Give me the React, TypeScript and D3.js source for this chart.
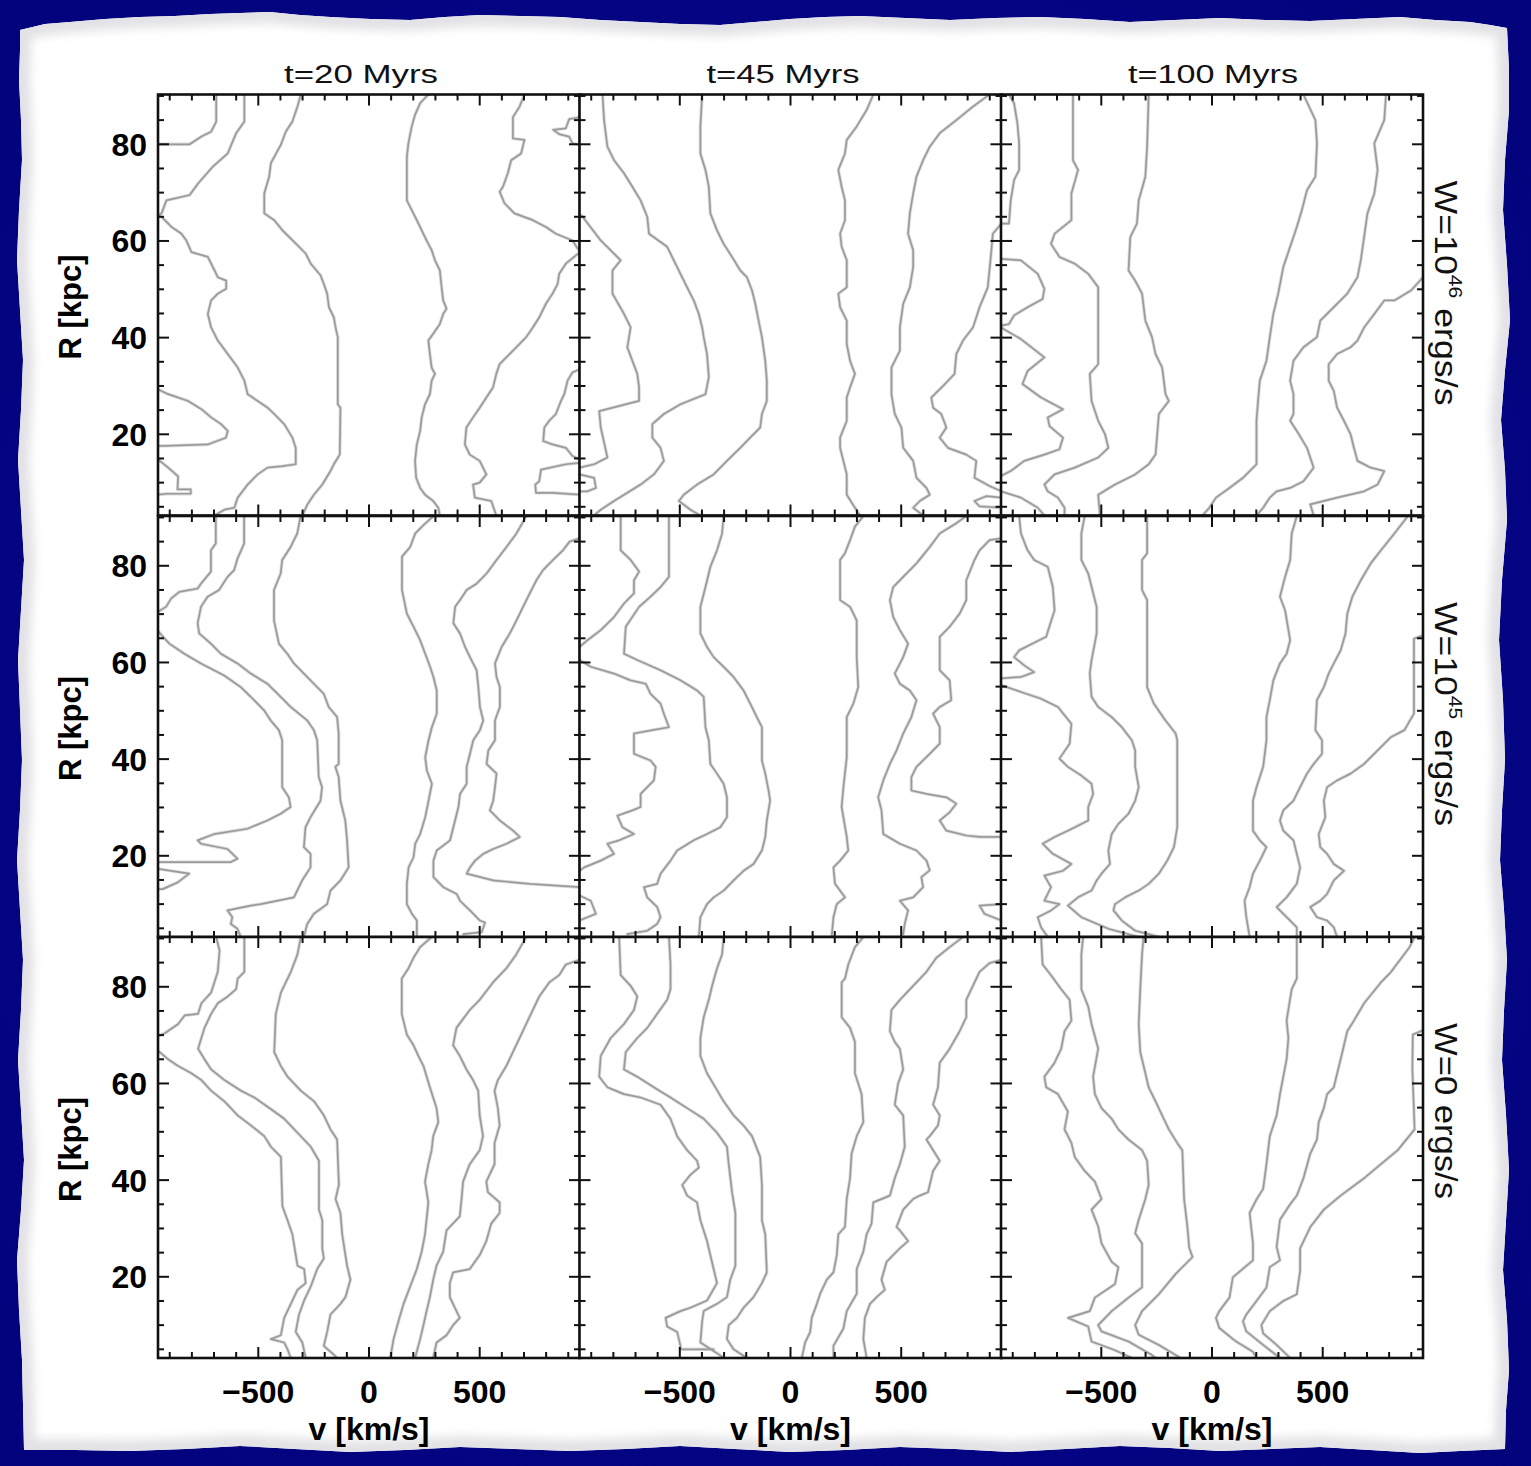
import React from 'react';
import * as d3 from 'd3';

type Pt = [number, number];

// ---------- labels & ticks ----------
const columnTitles = ['t=20 Myrs', 't=45 Myrs', 't=100 Myrs'];
const rowLabelBase = ['W=10', 'W=10', 'W=0'];
const rowLabelSup = ['46', '45', ''];
const rowLabelRest = [' ergs/s', ' ergs/s', ' ergs/s'];
const xMajorTicks = [-500, 0, 500];
const xMinorTicks = d3.range(-900, 901, 100);
const yMajorTicks = [20, 40, 60, 80];
const yMinorTicks = d3.range(5, 91, 5);
const vDomain: [number, number] = [-953, 953];
const rDomain: [number, number] = [3.2, 90.3];

// ---------- contour lines (v [km/s], R [kpc]) ----------
// Row 1 : W=10^46
const panel_r1c1: Pt[][] = [
  [[-690,90.3],[-690,84.7],[-713,82.6],[-757,81.6],[-810,80],[-953,80]],
  [[-563,90.3],[-563,84.7],[-600,82.3],[-638,78.1],[-705,75.4],[-772,71.9],[-810,69.5],[-915,68.4],[-937,65.7],[-953,65.2],[-937,65],[-892,62.9],[-847,61.5],[-825,60.1],[-802,57.7],[-728,56.7],[-705,54.6],[-683,52.5],[-645,51.8],[-645,50.1],[-683,49.1],[-713,47.7],[-728,44.9],[-713,42.1],[-683,39.4],[-638,36.6],[-593,33.8],[-563,31.1],[-548,28.3],[-503,26.9],[-458,25.5],[-428,24.2],[-383,22.1],[-346,19.3],[-331,17.2],[-331,13.8],[-391,13.4],[-458,13.1],[-503,11.7],[-548,9.6],[-593,6.9],[-608,4.8],[-653,4.4],[-698,3.2]],
  [[-308,90.3],[-323,87.8],[-346,84.7],[-376,82.6],[-398,79.9],[-428,77.4],[-443,76.1],[-451,73.3],[-473,69.8],[-473,65.7],[-428,64.3],[-391,62.2],[-338,59.8],[-286,57.4],[-263,55.3],[-219,52.9],[-204,51.1],[-189,49.1],[-181,46.3],[-159,44.2],[-151,42.1],[-141,40.1],[-141,26.2],[-129,25.5],[-132,15.8],[-159,13.8],[-174,12.4],[-211,9.6],[-249,7.5],[-278,5.5],[-301,3.2]],
  [[268,90.3],[231,88.5],[208,86.1],[193,83.7],[178,80.2],[171,77.4],[171,68.4],[193,66.4],[216,64.3],[238,62.2],[260,60.1],[283,58.1],[298,56],[320,53.9],[328,50.4],[335,47.7],[350,46],[335,44.9],[320,42.8],[290,40.8],[268,39.4],[275,36.6],[283,33.8],[298,32.5],[283,31.1],[275,28.3],[253,26.2],[238,23.5],[231,20.7],[216,17.9],[208,14.5],[213,11],[231,8.9],[253,7.5],[290,6.2],[313,4.8],[320,3.2]],
  [[702,90.3],[680,87.8],[650,85.6],[650,81.2],[702,80.9],[687,78.1],[642,76.7],[627,74],[605,71.2],[590,70.2],[612,67.8],[657,65.7],[740,64.3],[799,62.9],[844,61.5],[919,60.1],[953,57.7],[889,55.3],[859,53.2],[852,51.1],[829,49.1],[799,47],[769,44.2],[740,42.1],[710,40.1],[665,38],[620,35.9],[590,34.5],[575,32.5],[560,29.7],[530,27.6],[500,25.5],[470,23.5],[440,21.4],[433,17.9],[455,15.8],[500,14.5],[530,11.7],[500,10],[470,9.6],[478,6.9],[552,6.2],[575,3.2]],
  [[953,85.6],[904,85.2],[889,83.3],[832,83],[859,82.1],[904,81.6],[919,80.2],[953,79.9]],
  [[953,33.5],[919,32.8],[897,31.1],[882,28.3],[867,26.9],[844,24.2],[814,22.8],[792,21.4],[787,18.6],[829,17.9],[889,17.2],[919,15.5],[953,14.8]],
  [[953,14.1],[889,13.8],[777,12.7],[769,10.3],[751,9.6],[754,7.9],[829,7.9],[953,7.5]],
  [[-953,29.3],[-907,28.3],[-817,26.9],[-757,25.2],[-713,23.5],[-668,22.1],[-638,20.7],[-646,19.3],[-728,17.9],[-922,17.6],[-953,17.6]],
  [[-953,14.8],[-907,13.1],[-862,11.3],[-865,8.6],[-805,8.6],[-805,7.7],[-915,7.7],[-953,7.5]],
];

const panel_r1c2: Pt[][] = [
  [[-953,65.5],[-939,65],[-857,60.1],[-767,56],[-804,53.9],[-804,49.1],[-752,44.9],[-722,42.1],[-737,38],[-692,32.5],[-684,29.7],[-684,26.9],[-864,24.8],[-857,21.4],[-827,15.2],[-887,13.8],[-953,13.1]],
  [[-953,11.7],[-887,11],[-879,8.9],[-917,8.2],[-953,8.2]],
  [[-849,90.3],[-842,85],[-827,79.5],[-797,76.7],[-752,74],[-714,71.2],[-677,68.4],[-647,65],[-639,61.5],[-557,58.8],[-527,56],[-497,53.2],[-467,50.4],[-437,47.7],[-414,44.9],[-399,42.1],[-392,40.1],[-377,36.6],[-369,31.8],[-384,28.3],[-497,26.2],[-572,24.2],[-624,22.1],[-624,19.3],[-587,17.2],[-572,14.5],[-617,11.7],[-677,9.6],[-737,7.9],[-797,6.2],[-857,4.4],[-887,3.2]],
  [[-399,90.3],[-407,83.7],[-407,78.1],[-384,74.7],[-369,71.2],[-362,65.7],[-332,62.2],[-302,59.4],[-264,56.7],[-227,53.9],[-197,52.5],[-174,49.8],[-159,47],[-144,43.5],[-129,40.1],[-114,35.2],[-107,31.1],[-107,26.9],[-129,24.2],[-137,21.4],[-182,19.3],[-227,17.2],[-287,14.5],[-347,11.7],[-422,9.6],[-482,7.5],[-504,6.2],[-452,4.4],[-407,3.2]],
  [[374,90.3],[344,87.1],[299,83.7],[254,80.9],[246,78.1],[216,74.7],[231,71.2],[246,68.4],[246,64.3],[224,61.5],[231,58.8],[254,56],[254,50.4],[216,49.1],[224,46.3],[254,43.5],[254,38.7],[269,35.2],[291,32.5],[269,29.7],[254,27.6],[254,22.8],[224,19.3],[224,17.2],[254,11.7],[254,7.5],[291,4.8],[314,3.2]],
  [[899,90.3],[824,87.8],[749,85],[674,82.3],[629,79.5],[599,76.7],[569,73.3],[554,69.8],[539,65.7],[531,61.5],[554,58.1],[554,54.6],[539,50.4],[509,47],[494,42.1],[494,37.3],[456,33.8],[456,28.3],[471,24.2],[501,21.4],[509,17.2],[554,14.5],[569,11],[614,8.9],[629,7.5],[584,6.2],[554,4.8],[599,3.2]],
  [[953,63.6],[914,61.5],[906,57.4],[891,50.4],[854,46.3],[824,42.1],[779,39.4],[749,36.6],[741,32.5],[689,30],[636,27.6],[644,25.5],[681,24.2],[704,21.4],[674,19.3],[711,17.2],[794,15.8],[839,14.5],[831,11],[899,9.3],[953,8.2]],
  [[953,6.9],[884,7.2],[831,6.2],[854,5.1],[953,4.8]],
];

const panel_r1c3: Pt[][] = [
  [[-917,90.3],[-894,88.5],[-879,84.4],[-871,80.2],[-871,74.7],[-894,72.6],[-909,68.4],[-917,63.6],[-953,63.6]],
  [[-953,56.3],[-863,56],[-787,53.2],[-757,50.1],[-765,48],[-833,46.3],[-894,44.6],[-917,42.8],[-953,42.5]],
  [[-953,42.1],[-863,39.7],[-757,35.9],[-833,33.1],[-856,30.4],[-772,27.6],[-673,25.2],[-742,23.5],[-734,21.7],[-673,19.3],[-689,16.9],[-757,15.8],[-848,14.5],[-909,12.4],[-953,11.4]],
  [[-953,8.2],[-863,6.9],[-787,4.8],[-757,3.2]],
  [[-628,90.3],[-628,76.7],[-605,74.7],[-635,69.8],[-635,64.3],[-711,61.5],[-727,59.4],[-689,56.7],[-620,55.3],[-559,53.2],[-514,50.4],[-514,34.5],[-552,32.5],[-544,26.9],[-514,22.8],[-483,20],[-468,17.2],[-514,15.2],[-620,13.1],[-711,11.7],[-757,9.6],[-742,8.2],[-696,6.9],[-666,4.8],[-666,3.2]],
  [[-286,90.3],[-293,79.5],[-301,73.3],[-331,68.4],[-339,63.6],[-369,60.8],[-377,53.9],[-347,51.8],[-316,49.1],[-301,43.5],[-271,40.1],[-255,36.6],[-225,33.8],[-210,28.3],[-195,26.9],[-240,24.2],[-255,15.8],[-286,13.8],[-347,11.7],[-438,9.6],[-514,7.5],[-506,3.2]],
  [[413,90.3],[467,85],[474,80.2],[467,73.3],[429,70.5],[406,66.4],[383,62.9],[353,58.8],[322,54.6],[299,49.1],[277,44.9],[261,40.1],[246,35.2],[216,31.1],[208,26.9],[201,22.8],[201,15.8],[201,13.8],[140,11],[79,8.9],[18,6.9],[-12,4.8],[-43,3.2]],
  [[786,90.3],[778,85],[733,80.2],[748,74.7],[733,69.8],[702,65.7],[687,60.8],[672,56],[657,52.5],[611,49.1],[550,46.3],[489,43.5],[474,40.1],[413,38],[368,35.2],[353,31.1],[368,28.3],[368,24.2],[353,22.8],[383,20.7],[429,17.2],[459,13.1],[413,10.3],[353,8.9],[292,8.2],[261,6.9],[231,4.8],[201,3.2]],
  [[953,52.5],[900,49.8],[824,47.7],[778,47.7],[733,44.9],[687,42.1],[657,39.4],[626,38],[565,36.6],[527,34.5],[527,31.1],[550,29],[565,25.5],[596,22.8],[626,20],[641,17.2],[657,14.5],[717,13.1],[778,12.4],[748,9.6],[687,8.2],[565,6.9],[444,5.5],[459,3.2]],
];

// Row 2 : W=10^45
const panel_r2c1: Pt[][] = [
  [[-692,90.3],[-692,84.6],[-714,83.2],[-714,78.8],[-759,76.3],[-774,75.3],[-857,74.6],[-894,73.2],[-917,71.5],[-953,70.5]],
  [[-953,66.5],[-902,63.9],[-834,61.8],[-759,59.8],[-654,57.3],[-579,54.9],[-534,52.9],[-474,50.1],[-444,48],[-407,46],[-392,43.9],[-392,34.2],[-362,32.1],[-354,30.1],[-399,28.7],[-459,27.3],[-549,25.6],[-699,24.5],[-774,23.2],[-759,22.5],[-639,21.4],[-594,19.4],[-624,18.7],[-953,18.7]],
  [[-953,17.3],[-812,16.3],[-864,14.5],[-932,13.1],[-953,13.1]],
  [[-564,90.3],[-564,84.6],[-594,81.5],[-609,79.1],[-639,77.7],[-677,75],[-729,73.6],[-759,71.5],[-774,68.1],[-767,66],[-714,63.9],[-669,61.8],[-594,59.8],[-534,57.7],[-459,55.6],[-399,52.9],[-354,50.8],[-279,48],[-249,46],[-234,43.9],[-227,36.3],[-212,34.2],[-219,31.4],[-264,28],[-287,25.9],[-294,21.8],[-264,20.4],[-264,17.6],[-302,14.9],[-339,11.4],[-489,10],[-534,9.7],[-639,8.7],[-617,7.3],[-624,5.9],[-594,4.9],[-579,3.2]],
  [[-309,90.3],[-324,86.7],[-354,83.9],[-392,81.2],[-399,78.4],[-429,75],[-429,68.7],[-407,63.9],[-369,61.8],[-339,59.8],[-294,57.7],[-249,55.6],[-204,53.5],[-182,50.8],[-144,48.7],[-137,45.3],[-137,39],[-152,38.4],[-137,36.3],[-129,31.4],[-107,27.3],[-99,23.2],[-92,17.6],[-129,14.9],[-174,12.8],[-189,10],[-249,8],[-279,5.9],[-294,3.2]],
  [[291,90.3],[246,88.4],[209,86.7],[186,83.9],[149,81.9],[149,75],[171,70.1],[201,67.4],[231,64.6],[254,61.8],[276,59.1],[291,57],[306,54.2],[306,49.4],[284,46.6],[269,43.9],[254,40.4],[261,37.7],[284,34.9],[269,31.4],[254,28],[231,24.5],[209,22.5],[201,19.7],[179,17.6],[171,14.2],[171,10],[194,8],[216,6.6],[216,3.2]],
  [[711,90.3],[666,86.7],[621,83.9],[576,81.2],[531,78.4],[486,76.3],[441,75],[411,72.9],[389,71.5],[381,68.1],[411,66],[434,63.2],[456,61.1],[486,58.4],[494,54.9],[501,50.8],[516,48],[501,46],[471,43.9],[456,41.1],[441,38.4],[441,34.9],[411,32.8],[404,30.1],[381,25.9],[366,23.2],[306,21.1],[291,19],[291,15.6],[336,13.5],[396,12.1],[411,10.7],[456,8.7],[501,6.6],[524,6.2],[509,4.2],[426,3.8]],
  [[953,85.7],[906,85],[876,83.2],[831,81.2],[786,79.1],[756,77],[726,74.3],[696,71.5],[666,68.7],[636,66],[599,63.2],[569,59.8],[576,57],[591,54.9],[591,50.8],[569,48],[569,43.9],[539,41.8],[531,39],[576,37],[569,34.2],[561,31.4],[546,29.4],[591,27.3],[651,25.2],[681,23.9],[621,22.5],[561,21.4],[516,20.4],[479,19],[456,17.6],[441,16.3],[561,14.9],[726,14.2],[953,13.5]],
];

const panel_r2c2: Pt[][] = [
  [[-767,90.3],[-767,83.2],[-722,81.2],[-684,78.8],[-707,77],[-707,74.3],[-752,72.2],[-797,69.4],[-857,66.7],[-917,64.6],[-953,63.2]],
  [[-953,60.5],[-902,59.1],[-797,57.7],[-722,56.3],[-654,55.6],[-632,53.5],[-587,51.5],[-572,49.4],[-549,46.6],[-624,46],[-707,45.3],[-707,41.1],[-632,39.7],[-609,38.4],[-617,35.6],[-647,34.2],[-677,32.8],[-677,30.1],[-714,29.4],[-782,28.3],[-759,25.9],[-707,24.5],[-774,23.2],[-827,22.5],[-797,20.4],[-857,19],[-932,17.6],[-953,16.9]],
  [[-953,11.8],[-902,10.7],[-879,8],[-917,7.3],[-953,6.6]],
  [[-549,90.3],[-549,77.7],[-587,75.6],[-632,73.6],[-684,71.5],[-744,67.4],[-752,61.8],[-692,60.5],[-587,58.4],[-497,56.3],[-422,54.2],[-392,52.9],[-384,46.6],[-369,43.9],[-362,39],[-332,37],[-302,34.9],[-287,32.1],[-287,28],[-317,25.9],[-377,24.5],[-437,23.2],[-512,21.1],[-542,19],[-587,16.3],[-602,14.2],[-662,13.5],[-647,11.4],[-602,9.4],[-587,7.3],[-602,5.9],[-647,4.5],[-737,3.8]],
  [[-302,90.3],[-309,86.7],[-332,83.2],[-362,79.8],[-384,75.6],[-407,71.5],[-407,66],[-377,63.2],[-347,61.1],[-302,59.1],[-257,57],[-212,54.2],[-182,51.5],[-152,48.7],[-129,46.6],[-129,39.7],[-114,37],[-99,33.5],[-92,31.4],[-107,27.3],[-114,23.9],[-129,21.1],[-167,18.3],[-212,16.9],[-257,14.9],[-302,12.8],[-347,11.4],[-377,10],[-407,7.3],[-414,3.2]],
  [[329,90.3],[291,88.1],[269,85.3],[246,82.6],[224,81.2],[224,72.9],[269,71.5],[299,68.7],[299,61.1],[306,54.9],[284,51.5],[254,48.7],[254,40.4],[239,34.2],[231,30.1],[254,23.9],[261,21.1],[224,19],[194,17.6],[201,14.2],[246,11.4],[209,10],[194,7.3],[186,3.2]],
  [[794,90.3],[749,88.8],[674,86.7],[629,83.9],[569,80.5],[509,77.7],[464,75.6],[449,72.9],[464,69.4],[494,66.7],[531,63.9],[509,61.1],[471,57.7],[494,55.6],[539,54.2],[569,52.2],[546,48.7],[509,45.3],[479,41.8],[449,39],[419,35.6],[396,32.1],[411,29.4],[419,24.5],[494,22.5],[569,21.1],[614,19],[629,17],[591,15.6],[599,13.5],[554,11.4],[494,10.7],[531,8.7],[516,5.9],[509,3.8]],
  [[953,85.7],[899,85.3],[854,83.2],[831,81.2],[794,77],[794,72.9],[764,70.1],[719,67.4],[674,65.3],[674,58.4],[719,56.3],[726,52.2],[674,50.8],[644,49.4],[674,46.6],[674,43.2],[629,41.1],[569,38.4],[546,36.3],[546,33.5],[614,32.8],[704,32.1],[749,30.8],[719,29],[674,27.3],[704,25.2],[794,24.2],[854,23.9],[953,23.9]],
  [[953,10],[854,9.7],[876,8],[953,6.6]],
];

const panel_r2c3: Pt[][] = [
  [[-871,90.3],[-863,86.7],[-833,83.2],[-803,81.2],[-742,79.8],[-719,75.6],[-711,70.8],[-749,65.3],[-810,63.9],[-871,62.5],[-894,61.1],[-848,59.4],[-803,58],[-863,57],[-953,56.7]],
  [[-953,55.3],[-863,53.9],[-772,52.5],[-696,50.8],[-635,47.3],[-643,43.2],[-689,40.1],[-651,38.4],[-590,36.6],[-544,34.9],[-537,32.8],[-559,30.1],[-559,27.3],[-590,26.6],[-651,25.2],[-711,23.9],[-765,22.5],[-719,20.4],[-635,18.3],[-673,16.9],[-757,15.9],[-727,13.5],[-757,10.7],[-689,10],[-727,8.7],[-787,7.3],[-772,5.2],[-742,3.2]],
  [[-575,90.3],[-590,86.7],[-590,81.2],[-559,78.4],[-521,71.5],[-521,66],[-544,60.5],[-552,57.7],[-544,52.9],[-514,50.8],[-453,48.7],[-407,46.6],[-362,43.9],[-347,41.8],[-347,38.4],[-331,34.2],[-347,31.4],[-377,28.7],[-423,26.6],[-453,24.5],[-468,21.1],[-461,18.3],[-499,16.3],[-521,14.9],[-544,12.8],[-605,11.4],[-651,9.7],[-590,7.3],[-468,4.9],[-331,3.2]],
  [[-293,90.3],[-293,82.6],[-316,81.2],[-316,75],[-293,72.9],[-293,54.9],[-263,51.5],[-210,48],[-164,45.3],[-157,43.9],[-157,25.9],[-172,21.8],[-202,19],[-240,16.3],[-286,14.2],[-331,12.8],[-392,11.4],[-438,10],[-445,8.7],[-407,6.6],[-347,4.5],[-286,3.8],[-240,3.2]],
  [[383,90.3],[360,86.7],[353,81.2],[330,77.7],[307,73.6],[330,70.8],[353,64.6],[337,61.8],[307,59.8],[277,56.3],[261,52.2],[246,48.7],[246,43.9],[231,38.4],[201,34.2],[185,31.4],[185,25.2],[216,23.2],[246,21.8],[216,19],[185,16.3],[170,13.5],[147,10.7],[155,7.3],[170,3.2]],
  [[885,90.3],[824,86.7],[763,83.2],[717,80.5],[672,77],[634,73.6],[611,70.1],[603,66],[581,62.5],[550,59.8],[527,57.7],[505,54.9],[474,52.2],[467,46],[497,43.9],[497,41.1],[459,39],[429,37],[398,34.2],[368,31.4],[322,29.4],[307,27.3],[322,25.2],[368,23.2],[383,20.4],[398,17.6],[383,14.2],[337,11.4],[292,9.4],[322,8],[353,6.6],[383,5.2],[383,3.2]],
  [[953,65.6],[912,64.9],[912,49.4],[869,46],[809,44.6],[748,41.8],[687,39],[626,37],[565,35.6],[520,34.2],[505,31.4],[512,28],[482,24.5],[489,21.8],[520,20.4],[550,18.3],[596,16.9],[550,14.9],[520,12.1],[489,10.7],[444,9.4],[474,7.3],[520,6.6],[550,5.2],[565,3.2]],
];

// Row 3 : W=0
const panel_r3c1: Pt[][] = [
  [[-690,90.3],[-675,87.5],[-683,83.1],[-713,78.8],[-757,76.6],[-772,74.4],[-832,74.1],[-862,72.3],[-922,70.4],[-953,69.8]],
  [[-953,66.8],[-907,65],[-862,63.6],[-802,62.1],[-757,60.7],[-713,58.5],[-653,56.3],[-593,53.4],[-533,51.3],[-473,49.1],[-443,46.9],[-398,44.8],[-391,34.6],[-368,31.7],[-346,28.8],[-323,22.3],[-293,21.6],[-286,18.7],[-323,17.3],[-353,14.4],[-383,11.5],[-398,7.9],[-443,7.1],[-383,6.4],[-368,5],[-353,3.2]],
  [[-563,90.3],[-563,83.1],[-593,81.7],[-600,79.5],[-638,78],[-683,76.6],[-713,74.4],[-743,71.5],[-757,69.4],[-772,67.2],[-743,65],[-713,62.9],[-653,60.7],[-578,58.5],[-518,57.1],[-428,54.2],[-383,52.7],[-323,49.8],[-263,46.9],[-226,44],[-226,33.9],[-211,31.7],[-211,25.9],[-204,23.8],[-234,21.6],[-263,18],[-293,15.1],[-316,12.2],[-331,8.6],[-301,6.4],[-286,3.2]],
  [[-308,90.3],[-323,86.7],[-353,83.1],[-398,78.8],[-421,74.4],[-428,66.5],[-398,63.6],[-368,61.4],[-308,58.5],[-248,56.3],[-204,53.4],[-174,50.5],[-144,48.4],[-136,39],[-151,36.1],[-129,33.2],[-121,28.8],[-99,22.3],[-84,19.4],[-106,15.8],[-129,14.4],[-174,12.2],[-189,8.6],[-204,5.7],[-159,3.9],[-144,3.2]],
  [[283,90.3],[231,88.2],[201,86],[178,83.8],[148,81.7],[148,74.4],[171,70.1],[201,67.9],[223,65.7],[246,63.6],[275,59.2],[305,54.9],[313,52],[290,49.1],[283,46.2],[268,43.3],[253,39.7],[268,35.4],[253,28.8],[238,25.2],[216,21.6],[186,18],[156,14.4],[133,10.8],[111,7.1],[96,3.2]],
  [[710,90.3],[665,86.7],[620,83.8],[560,80.9],[500,77.3],[455,75.2],[395,71.5],[380,67.9],[410,65.7],[440,62.9],[470,60.7],[493,58.5],[500,53.4],[515,49.1],[500,46.2],[455,43.3],[425,39.7],[418,36.1],[410,32.5],[350,29.6],[335,25.2],[305,22.3],[290,19.4],[275,15.8],[260,12.9],[246,10],[231,7.1],[208,3.2]],
  [[953,85.6],[889,84.6],[859,82.4],[814,80.9],[769,78],[740,75.2],[710,72.3],[680,69.4],[650,66.5],[620,63.6],[582,60.7],[567,58.5],[582,54.9],[590,51.3],[567,47.7],[567,43.3],[530,39.7],[537,37.5],[590,35.4],[590,33.2],[552,31],[530,27.4],[500,24.5],[455,21.6],[380,20.9],[365,18.7],[365,15.8],[395,12.9],[410,11.5],[380,10],[350,7.9],[305,6.4],[290,3.2]],
];

const panel_r3c2: Pt[][] = [
  [[-774,90.3],[-767,82.4],[-722,80.2],[-692,78],[-707,75.2],[-752,72.3],[-812,69.4],[-857,65.7],[-864,61.4],[-827,59.2],[-752,57.8],[-677,57.1],[-587,55.6],[-542,52.7],[-512,49.1],[-467,46.2],[-422,44],[-414,42.6],[-452,41.1],[-489,39],[-467,36.8],[-422,35.4],[-407,31.7],[-377,27.4],[-362,24.5],[-347,21.6],[-332,18.7],[-377,15.1],[-452,13.6],[-497,12.9],[-564,11.5],[-557,9.7],[-512,8.6],[-497,5.7],[-497,5],[-347,5]],
  [[-549,90.3],[-542,84.6],[-542,79.5],[-557,77.3],[-602,74.4],[-647,71.5],[-692,69.4],[-744,66.5],[-752,62.9],[-692,61.4],[-617,59.2],[-542,57.1],[-467,54.9],[-392,52.7],[-332,49.8],[-287,46.9],[-279,43.3],[-264,37.5],[-249,33.2],[-249,22.3],[-272,19.4],[-287,15.8],[-332,14.4],[-392,12.9],[-399,10.8],[-407,6.4],[-332,4.2],[-302,3.2]],
  [[-302,90.3],[-309,86.7],[-332,83.8],[-354,80.2],[-369,77.3],[-392,73.7],[-407,69.4],[-407,65.7],[-377,62.1],[-339,59.2],[-302,56.3],[-257,53.4],[-212,51.3],[-174,49.1],[-137,44.8],[-129,39],[-129,31.7],[-114,28.8],[-107,20.9],[-129,18.7],[-167,15.8],[-212,13.6],[-242,11.5],[-279,10],[-287,7.1],[-257,5],[-197,3.2]],
  [[329,90.3],[291,88.2],[261,84.6],[246,81.7],[231,80.9],[231,73.7],[269,71.5],[291,68.6],[291,62.1],[321,57.8],[329,52],[299,49.1],[276,45.5],[269,40.4],[254,36.1],[246,30.3],[216,28.8],[209,24.5],[194,20.9],[164,19.4],[134,16.5],[119,14.4],[96,11.5],[89,8.6],[66,6.4],[51,3.2]],
  [[779,90.3],[719,88.2],[659,86],[614,83.1],[554,80.2],[494,77.3],[456,75.2],[449,70.8],[471,68.6],[494,67.2],[509,62.9],[486,60],[471,55.6],[509,53.4],[516,46.9],[494,43.3],[471,40.4],[449,36.8],[374,35.4],[366,31],[344,28.8],[329,25.2],[299,21.6],[299,16.5],[254,12.9],[239,9.3],[194,5.7],[194,3.2]],
  [[953,85.6],[899,84.9],[854,83.1],[831,80.9],[794,77.3],[794,73.7],[764,70.8],[719,67.2],[674,64.3],[666,59.2],[644,55.6],[674,53.4],[666,51.3],[629,49.1],[614,48.4],[674,44],[644,41.9],[621,37.5],[584,36.8],[554,36.1],[509,33.9],[479,30.3],[494,29.6],[531,27.4],[494,25.9],[434,23.1],[411,19.4],[426,17.3],[389,15.8],[359,14.4],[336,11.5],[329,7.1],[344,3.2]],
];

const panel_r3c3: Pt[][] = [
  [[-772,90.3],[-765,84.6],[-727,82.4],[-681,79.5],[-643,77.3],[-635,73],[-666,70.8],[-681,67.2],[-711,64.3],[-757,61.4],[-749,59.2],[-696,57.8],[-651,54.2],[-666,50.5],[-635,47.7],[-620,44.8],[-575,41.9],[-529,39.7],[-499,36.1],[-544,33.9],[-514,30.4],[-499,26.9],[-453,23.1],[-423,22],[-438,18.5],[-529,15.7],[-552,12.9],[-650,11.5],[-559,9.7],[-544,6.6],[-438,4.8],[-362,3.2]],
  [[-582,90.3],[-590,86.7],[-590,79.5],[-559,75.9],[-544,72.3],[-514,67.2],[-537,61.4],[-529,57.8],[-499,54.9],[-453,52.7],[-423,50.5],[-377,48.4],[-316,46.2],[-293,44],[-286,39],[-301,36.1],[-331,31.8],[-347,29],[-316,26.9],[-316,17.8],[-377,15.7],[-453,12.9],[-514,10],[-499,8.7],[-377,6.6],[-271,3.8],[-255,3.2]],
  [[-309,90.3],[-316,86.7],[-324,79.5],[-331,72.3],[-324,66.5],[-301,62.1],[-286,59.2],[-255,56.3],[-225,53.4],[-195,50.5],[-157,47.7],[-134,46.2],[-126,36.1],[-111,30.3],[-103,26],[-88,24.1],[-164,20.6],[-240,16.4],[-316,12.9],[-347,10],[-331,8],[-240,5.9],[-149,3.4]],
  [[383,90.3],[383,81.7],[360,79.5],[337,73],[345,69.4],[337,65],[322,61.4],[307,57.8],[292,53.4],[261,49.1],[246,43.3],[231,38.2],[201,36],[170,33.2],[185,26.9],[185,23.4],[94,19.9],[79,15.7],[33,12.9],[18,11.5],[33,9.4],[109,6.6],[185,4.5],[201,3.2]],
  [[915,90.3],[892,88.2],[809,83.1],[763,80.9],[687,76.6],[641,73],[611,70.8],[581,65],[550,59.2],[520,57.8],[505,54.9],[482,52],[474,48.4],[444,45.5],[413,40.4],[383,36.8],[353,35],[307,31.8],[292,26.2],[307,23.4],[261,22],[246,17.8],[201,15],[155,12.2],[140,10.8],[155,8.7],[231,5.9],[307,3.2]],
  [[953,71],[907,70.1],[905,63],[915,50.5],[839,46.2],[763,43.3],[687,40.4],[581,36.8],[505,33.9],[444,30.3],[398,25.9],[398,21.3],[383,16.4],[322,15],[261,12.9],[223,10],[231,8.3],[292,5.9],[353,3.2]],
];

const panelGrid: Pt[][][][] = [
  [panel_r1c1, panel_r1c2, panel_r1c3],
  [panel_r2c1, panel_r2c2, panel_r2c3],
  [panel_r3c1, panel_r3c2, panel_r3c3],
];

// ---------- layout ----------
const W = 1531;
const H = 1466;
const colX = [158, 579.5, 1001];
const rowY = [94.5, 516, 937];
const PW = 422;
const PH = 421;
const titleCenters = [361, 783, 1213];
const titleWidths = [154, 153, 170];
const rowLabelLengths = [225, 224, 176];
const FONT = 'Liberation Sans, Arial, Helvetica, sans-serif';

// decorative torn paper outline
const paperOutline: Pt[] = [
  [20, 30], [45, 24], [70, 22], [105, 19], [140, 17], [175, 16], [210, 14], [240, 13], [270, 12], [300, 15], [330, 17],
  [370, 19], [410, 20], [445, 17], [480, 15], [520, 16], [560, 17], [600, 20], [640, 22], [680, 24], [720, 25],
  [755, 22], [790, 19], [825, 17], [860, 16], [905, 18], [950, 20], [995, 18], [1040, 17], [1085, 19],
  [1130, 22], [1175, 20], [1220, 18], [1265, 20], [1310, 21], [1355, 19], [1400, 17], [1435, 20], [1470, 22],
  [1490, 25], [1507, 28], [1509, 70], [1509, 110], [1505, 160], [1503, 210], [1507, 265], [1510, 320],
  [1505, 370], [1501, 420], [1505, 470], [1507, 520], [1502, 580], [1499, 640], [1503, 700], [1505, 760],
  [1502, 810], [1500, 860], [1504, 910], [1507, 960], [1504, 1010], [1502, 1060], [1506, 1115], [1509, 1170],
  [1506, 1220], [1503, 1270], [1507, 1320], [1509, 1370], [1506, 1410], [1505, 1449], [1460, 1451],
  [1420, 1453], [1370, 1450], [1320, 1447], [1270, 1449], [1220, 1451], [1170, 1448], [1120, 1446],
  [1065, 1449], [1010, 1452], [955, 1449], [900, 1447], [845, 1450], [790, 1452], [735, 1449], [680, 1446],
  [625, 1449], [570, 1451], [515, 1449], [460, 1447], [405, 1450], [350, 1452], [295, 1449], [240, 1446],
  [185, 1449], [130, 1451], [75, 1450], [24, 1450], [23, 1405], [22, 1360], [19, 1310], [17, 1260], [21, 1210],
  [24, 1160], [21, 1110], [18, 1060], [21, 1010], [23, 960], [20, 910], [17, 860], [20, 810], [22, 760],
  [20, 710], [18, 660], [21, 610], [24, 560], [21, 510], [18, 460], [21, 410], [23, 360], [20, 310],
  [17, 260], [19, 210], [22, 160], [21, 120], [19, 80], [20, 50],
];

function Panel({ r, c }: { r: number; c: number }) {
  const x0 = colX[c];
  const y0 = rowY[r];
  const xs = d3.scaleLinear().domain(vDomain).range([x0, x0 + PW]);
  const ys = d3.scaleLinear().domain(rDomain).range([y0 + PH, y0]);
  const line = d3.line<Pt>().x((d) => xs(d[0])).y((d) => ys(d[1]));
  const clipId = `clip-${r}-${c}`;
  const lines = panelGrid[r][c];
  const tickColor = '#111';
  return (
    <g>
      <clipPath id={clipId}>
        <rect x={x0} y={y0} width={PW} height={PH} />
      </clipPath>
      <rect x={x0} y={y0} width={PW} height={PH} fill="#fff" />
      <g clipPath={`url(#${clipId})`} fill="none" strokeLinejoin="round" strokeLinecap="round">
        {lines.map((pts, i) => (
          <path key={'h' + i} d={line(pts) || ''} stroke="#dcdcdc" strokeWidth={3.4} />
        ))}
        {lines.map((pts, i) => (
          <path key={'l' + i} d={line(pts) || ''} stroke="#9b9b9b" strokeWidth={1.7} />
        ))}
      </g>
      <g stroke={tickColor} strokeWidth={2}>
        {xMinorTicks.map((v) => {
          const major = xMajorTicks.includes(v);
          const len = major ? 11 : 6;
          return (
            <g key={'xt' + v}>
              <line x1={xs(v)} x2={xs(v)} y1={y0 + PH} y2={y0 + PH - len} />
              <line x1={xs(v)} x2={xs(v)} y1={y0} y2={y0 + len} />
            </g>
          );
        })}
        {yMinorTicks.map((rv) => {
          const major = yMajorTicks.includes(rv);
          const len = major ? 11 : 6;
          return (
            <g key={'yt' + rv}>
              <line x1={x0} x2={x0 + len} y1={ys(rv)} y2={ys(rv)} />
              <line x1={x0 + PW} x2={x0 + PW - len} y1={ys(rv)} y2={ys(rv)} />
            </g>
          );
        })}
      </g>
      <rect x={x0} y={y0} width={PW} height={PH} fill="none" stroke="#111" strokeWidth={2.6} />
      {c === 0 &&
        yMajorTicks.map((rv) => (
          <text key={'yl' + rv} x={x0 - 11} y={ys(rv) + 11.5} textAnchor="end" fontFamily={FONT}
            fontWeight="bold" fontSize={32} fill="#000">{rv}</text>
        ))}
      {r === 2 &&
        xMajorTicks.map((v) => (
          <text key={'xl' + v} x={xs(v)} y={1403} textAnchor="middle" fontFamily={FONT}
            fontWeight="bold" fontSize={32} fill="#000">{v < 0 ? '\u2212' + Math.abs(v) : String(v)}</text>
        ))}
    </g>
  );
}

export default function App() {
  const paperPath = 'M' + paperOutline.map((p) => p.join(',')).join('L') + 'Z';
  return (
    <svg width={W} height={H} viewBox={`0 0 ${W} ${H}`}
      style={{ position: 'absolute', left: 0, top: 0, display: 'block' }}>
      <defs>
        <radialGradient id="bgGrad" cx="50%" cy="50%" r="75%">
          <stop offset="0%" stopColor="#0a0a96" />
          <stop offset="100%" stopColor="#02027a" />
        </radialGradient>
        <filter id="soft" x="-5%" y="-5%" width="110%" height="110%">
          <feGaussianBlur stdDeviation="5" />
        </filter>
        <clipPath id="paperClip">
          <path d={paperPath} />
        </clipPath>
      </defs>
      <rect x={0} y={0} width={W} height={H} fill="url(#bgGrad)" />
      <path d={paperPath} fill="#ffffff" />
      <g clipPath="url(#paperClip)">
        <path d={paperPath} fill="none" stroke="#e2e2e6" strokeWidth={22} filter="url(#soft)" />
      </g>

      {[0, 1, 2].map((r) => [0, 1, 2].map((c) => <Panel key={`${r}-${c}`} r={r} c={c} />))}

      {columnTitles.map((t, i) => (
        <text key={t} x={titleCenters[i]} y={83} textAnchor="middle" fontFamily={FONT} fontSize={25}
          textLength={titleWidths[i]} lengthAdjust="spacingAndGlyphs" fill="#111">{t}</text>
      ))}

      {[0, 1, 2].map((c) => (
        <text key={'vx' + c} x={colX[c] + PW / 2} y={1440} textAnchor="middle" fontFamily={FONT}
          fontWeight="bold" fontSize={32} fill="#000">v [km/s]</text>
      ))}

      {[0, 1, 2].map((r) => (
        <text key={'ry' + r} transform={`translate(81, ${rowY[r] + PH / 2 + 2}) rotate(-90)`}
          textAnchor="middle" fontFamily={FONT} fontWeight="bold" fontSize={31} fill="#000">R [kpc]</text>
      ))}

      {[0, 1, 2].map((r) => (
        <text key={'rl' + r} transform={`translate(1435, ${rowY[r] + 86}) rotate(90)`}
          fontFamily={FONT} fontSize={32} fill="#111"
          textLength={rowLabelLengths[r]} lengthAdjust="spacingAndGlyphs">
          <tspan>{rowLabelBase[r]}</tspan>
          {rowLabelSup[r] ? <tspan fontSize={19} dy={-14}>{rowLabelSup[r]}</tspan> : null}
          <tspan dy={rowLabelSup[r] ? 14 : 0}>{rowLabelRest[r]}</tspan>
        </text>
      ))}
    </svg>
  );
}
